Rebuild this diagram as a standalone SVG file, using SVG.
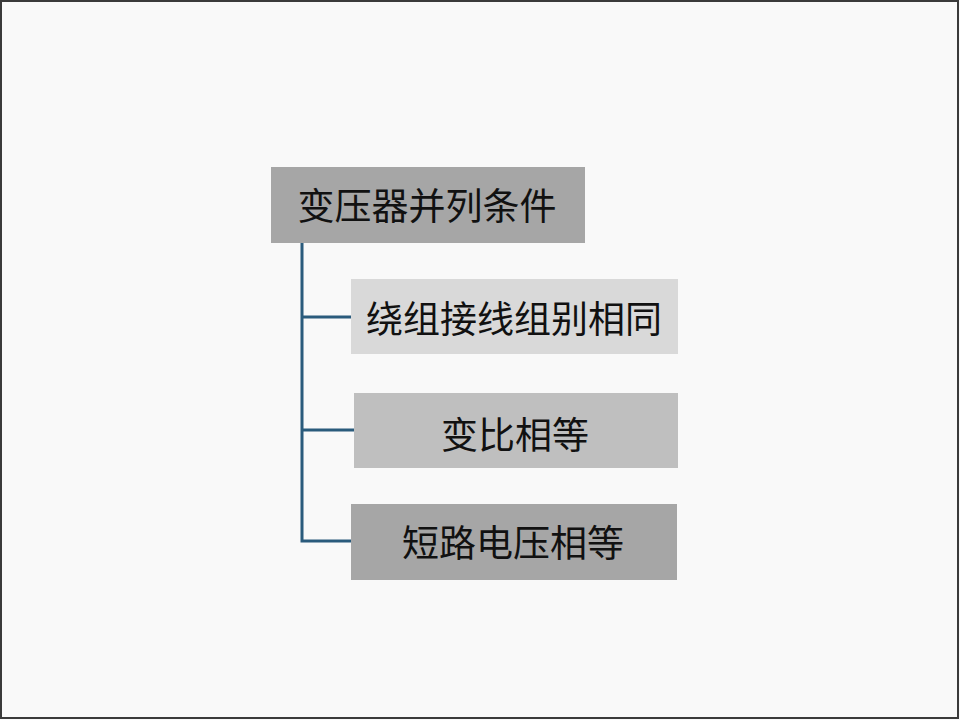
<svg xmlns="http://www.w3.org/2000/svg" width="960" height="720" viewBox="0 0 960 720">
  <style>
    .lbl { font-family: "Noto Sans CJK SC", "Noto Sans", sans-serif; font-size: 37px; fill: #111; text-anchor: middle; dominant-baseline: central; }
    .conn { stroke: #2a5b7c; stroke-width: 3; fill: none; }
  </style>
  <rect x="0" y="0" width="960" height="720" fill="#f9f9f9"/>
  <rect x="1" y="1" width="957" height="717" fill="none" stroke="#3a3a3a" stroke-width="2"/>
  <g id="connectors">
    <path class="conn" d="M302 243 V541 H351 M302 317 H351 M302 430 H354"/>
  </g>
  <g id="root">
    <rect x="271" y="167" width="314" height="76" fill="#a6a6a6"/>
    <text class="lbl" x="427" y="204">变压器并列条件</text>
  </g>
  <g id="n1">
    <rect x="351" y="279" width="327" height="75" fill="#d9d9d9"/>
    <text class="lbl" x="514" y="317">绕组接线组别相同</text>
  </g>
  <g id="n2">
    <rect x="354" y="393" width="324" height="75" fill="#bfbfbf"/>
    <text class="lbl" x="515" y="433">变比相等</text>
  </g>
  <g id="n3">
    <rect x="351" y="504" width="326" height="76" fill="#a6a6a6"/>
    <text class="lbl" x="513" y="541">短路电压相等</text>
  </g>
</svg>
